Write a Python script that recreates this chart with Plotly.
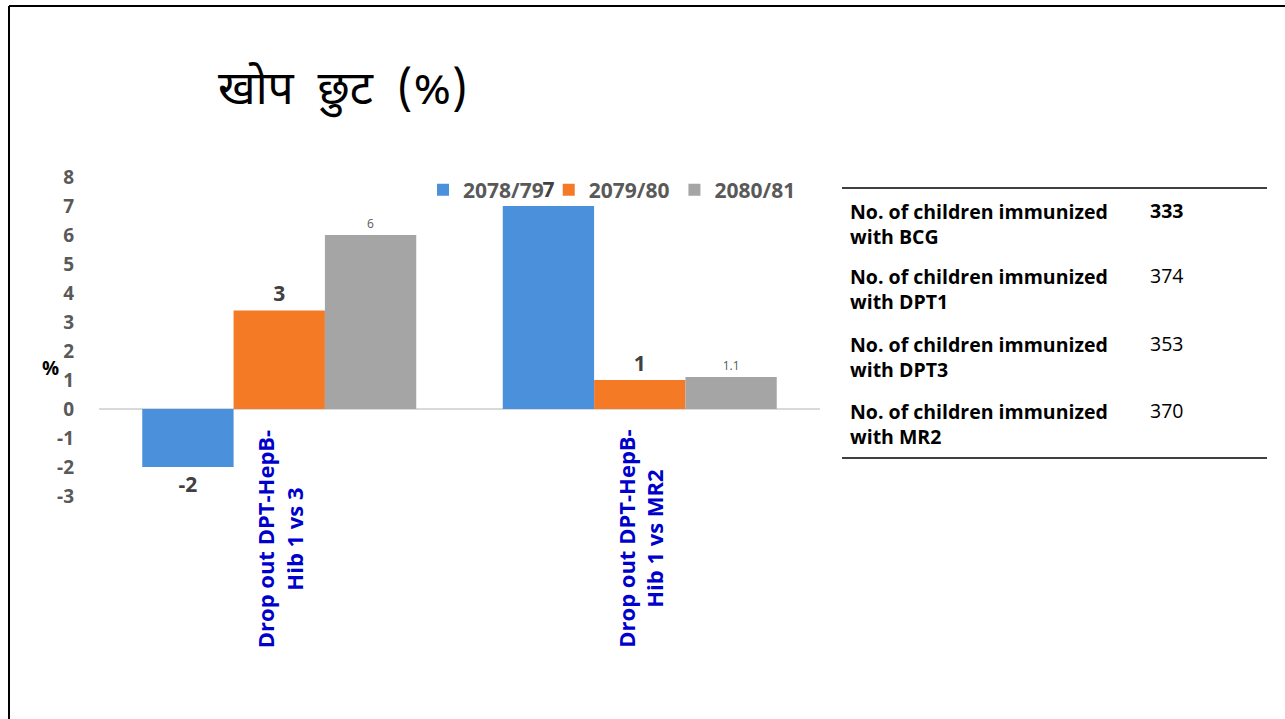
import plotly.graph_objects as go

# ---------------- data ----------------
categories = ["Drop out DPT-HepB-<br>Hib 1 vs 3", "Drop out DPT-HepB-<br>Hib 1 vs MR2"]
series_names = ["2078/79", "2079/80", "2080/81"]
values_2078 = [-2, 7]
values_2079 = [3.4, 1.0]
values_2080 = [6, 1.1]
labels_2078 = ["-2", "7"]
labels_2079 = ["3", "1"]
labels_2080 = ["6", "1.1"]
label_bold = [True, True, False]

y_ticks = [-3, -2, -1, 0, 1, 2, 3, 4, 5, 6, 7, 8]
y_tick_text = ["-3", "-2", "-1", "0", "1", "2", "3", "4", "5", "6", "7", "8"]

table_labels = ["No. of children immunized<br>with BCG",
                "No. of children immunized<br>with DPT1",
                "No. of children immunized<br>with DPT3",
                "No. of children immunized<br>with MR2"]
table_values = ["333", "374", "353", "370"]
table_value_bold = [True, False, False, False]

title_text = "खोप  छुट  (%)"

# ---------------- layout helpers ----------------
W, H = 1285, 719
L, R, T, B = 99, 820, 177, 496


def px_x(p):
    return (p - L) / (R - L)


def px_y(p):
    return (B - p) / (B - T)


colors = ["#4A90DA", "#F47A26", "#A5A5A5"]
series_vals = [values_2078, values_2079, values_2080]
series_labels = [labels_2078, labels_2079, labels_2080]

FONT = "Open Sans, Liberation Sans, sans-serif"

fig = go.Figure()
for name, vals, labs, col, bold in zip(series_names, series_vals, series_labels, colors, label_bold):
    if bold:
        txt = ["<b>%s</b>" % s for s in labs]
        tf = dict(size=21, color="#404040", family=FONT)
    else:
        txt = labs
        tf = dict(size=12, color="#595959", family=FONT)
    fig.add_trace(go.Bar(
        name=name, x=categories, y=vals, text=txt, textposition="outside",
        textfont=tf, cliponaxis=False,
        marker=dict(color=col, line=dict(width=0)),
    ))

fig.update_layout(
    width=W, height=H,
    margin=dict(l=L, r=W - R, t=T, b=H - B),
    paper_bgcolor="white", plot_bgcolor="white",
    barmode="group", bargap=0.24, bargroupgap=0,
    font=dict(family=FONT),
    showlegend=True,
    legend=dict(orientation="h", x=px_x(423), y=px_y(190), xanchor="left", yanchor="middle",
                font=dict(size=21, color="#595959", family=FONT, weight="bold"),
                itemwidth=30, bgcolor="rgba(0,0,0,0)", tracegroupgap=0),
    xaxis=dict(showticklabels=False, showgrid=False, showline=False, ticks=""),
    yaxis=dict(range=[-3, 8], tickvals=y_ticks, ticktext=y_tick_text, showgrid=False, showline=False,
               zeroline=True, zerolinecolor="#D9D9D9", zerolinewidth=2,
               tickfont=dict(size=19, color="#595959", family=FONT, weight="bold"),
               ticklabelstandoff=24),
)

annotations = []
# title
annotations.append(dict(text=title_text, x=px_x(216), y=px_y(92), xref="paper", yref="paper",
                        xanchor="left", yanchor="middle", showarrow=False,
                        font=dict(size=46, color="#000000",
                                  family="Noto Sans Devanagari, Noto Sans, sans-serif")))
# y-axis "%"
annotations.append(dict(text="<b>%</b>", x=px_x(50), y=px_y(368), xref="paper", yref="paper",
                        xanchor="center", yanchor="middle", showarrow=False,
                        font=dict(size=19, color="#000000", family=FONT)))
# category labels
for c in categories:
    annotations.append(dict(text="<b>%s</b>" % c, x=c, xref="x", y=px_y(539), yref="paper",
                            textangle=-90, align="center", xanchor="center", yanchor="middle",
                            showarrow=False,
                            font=dict(size=22, color="#0000CC", family=FONT)))
# table rows
row_y = [224, 289, 357, 424]
for lab, val, vb, ry in zip(table_labels, table_values, table_value_bold, row_y):
    annotations.append(dict(text="<b>%s</b>" % lab, x=px_x(848), y=px_y(ry), xref="paper", yref="paper",
                            xanchor="left", yanchor="middle", align="left", showarrow=False,
                            font=dict(size=19.5, color="#000000", family=FONT)))
    vt = "<b>%s</b>" % val if vb else val
    annotations.append(dict(text=vt, x=px_x(1148), y=px_y(ry - 14), xref="paper", yref="paper",
                            xanchor="left", yanchor="middle", align="left", showarrow=False,
                            font=dict(size=19.5, color="#000000", family=FONT)))
fig.update_layout(annotations=annotations)

shapes = [
    # slide border
    dict(type="line", xref="paper", yref="paper", x0=px_x(9), x1=px_x(W + 5), y0=px_y(6), y1=px_y(6),
         line=dict(color="#000000", width=2)),
    dict(type="line", xref="paper", yref="paper", x0=px_x(9), x1=px_x(9), y0=px_y(6), y1=px_y(H + 5),
         line=dict(color="#000000", width=2)),
    # table rules
    dict(type="line", xref="paper", yref="paper", x0=px_x(842), x1=px_x(1267), y0=px_y(188), y1=px_y(188),
         line=dict(color="#000000", width=1.3)),
    dict(type="line", xref="paper", yref="paper", x0=px_x(842), x1=px_x(1267), y0=px_y(458), y1=px_y(458),
         line=dict(color="#000000", width=1.3)),
]
fig.update_layout(shapes=shapes)

fig.write_html("out.html", config={"displayModeBar": False},
               post_script="document.body.style.margin='0';")
